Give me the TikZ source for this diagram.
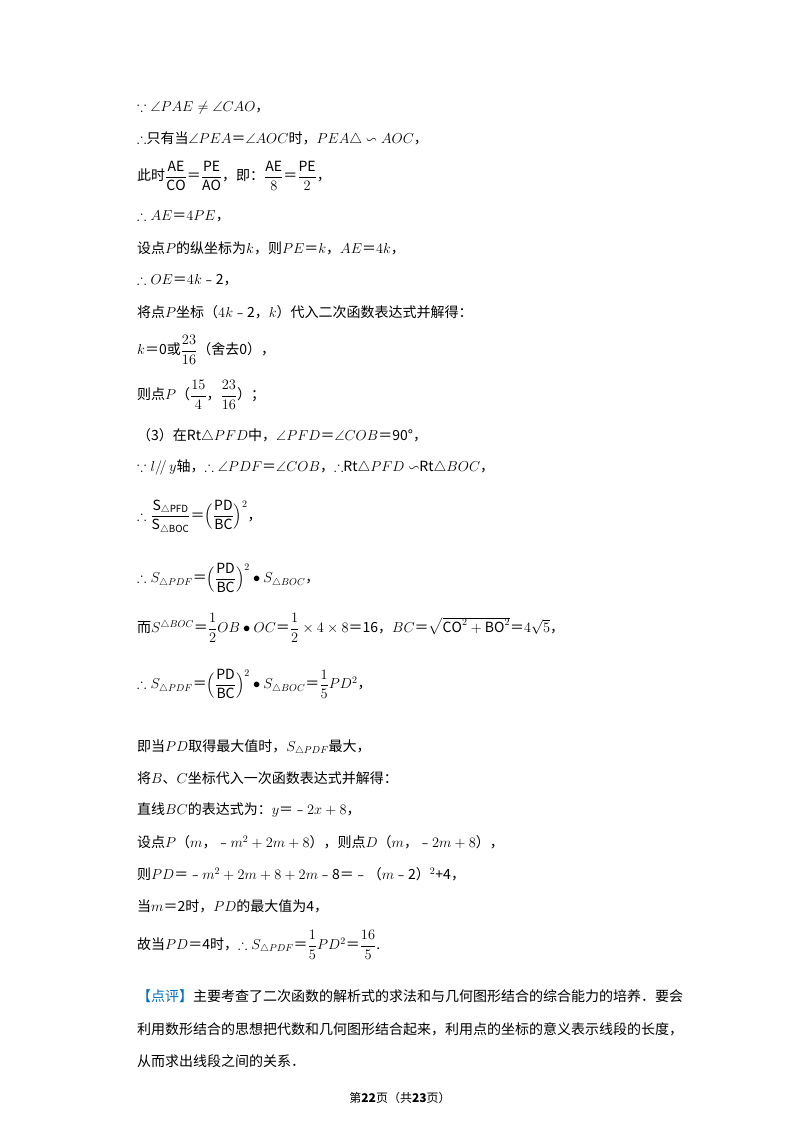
\documentclass[tikz,border=0pt]{standalone}
\usepackage{amsmath,amssymb}
\usepackage{fontspec}
\setmainfont{Noto Sans CJK SC}
\newcommand\fs{\fontsize{14}{17}\selectfont}
\definecolor{dpblue}{RGB}{0,112,192}
\begin{document}
\begin{tikzpicture}[x=1pt,y=-1pt,t/.style={anchor=west,inner sep=0pt,font=\fs}]
\useasboundingbox[fill=white] (0,0) rectangle (800,1132);
\node[t] (l1) at (137,108) {$\because\angle PAE\neq\angle CAO$，};
\node[t] (l2) at (137,139) {$\therefore$只有当$\angle PEA$＝$\angle AOC$时，$PEA\triangle\backsim AOC$，};
\node[t] (l3) at (137,176) {此时$\dfrac{\mathrm{AE}}{\mathrm{CO}}$＝$\dfrac{\mathrm{PE}}{\mathrm{AO}}$，即：$\dfrac{\mathrm{AE}}{8}$＝$\dfrac{\mathrm{PE}}{2}$，};
\node[t] (l4) at (137,216) {$\therefore AE$＝$4PE$，};
\node[t] (l5) at (137,248) {设点$P$的纵坐标为$k$，则$PE$＝$k$，$AE$＝$4k$，};
\node[t] (l6) at (137,280) {$\therefore OE$＝$4k$﹣2，};
\node[t] (l7) at (137,312) {将点$P$坐标（$4k$﹣2，$k$）代入二次函数表达式并解得：};
\node[t] (l8) at (137,350) {$k$＝0或$\dfrac{23}{16}$（舍去0），};
\node[t] (l9) at (137,395) {则点$P$（$\dfrac{15}{4}$，$\dfrac{23}{16}$）；};
\node[t] (l10) at (137,436) {（3）在Rt$\triangle PFD$中，$\angle PFD$＝$\angle COB$＝90°，};
\node[t] (l11) at (137,467) {$\because l/\!/\,y$轴，$\therefore\angle PDF$＝$\angle COB$，$\therefore$Rt$\triangle PFD\backsim$Rt$\triangle BOC$，};
\node[t] (l12) at (137,517) {$\therefore\dfrac{\mathrm{S}_{\triangle\mathrm{PFD}}}{\mathrm{S}_{\triangle\mathrm{BOC}}}$＝$\Big(\dfrac{\mathrm{PD}}{\mathrm{BC}}\Big)^2$，};
\node[t] (l13) at (137,578) {$\therefore S_{\triangle PDF}$＝$\Big(\dfrac{\mathrm{PD}}{\mathrm{BC}}\Big)^2\bullet S_{\triangle BOC}$，};
\node[t] (l14) at (137,628) {而$S^{\triangle BOC}$＝$\dfrac12 OB\bullet OC$＝$\dfrac12\times4\times8$＝16，$BC$＝$\sqrt{\mathrm{CO}^2+\mathrm{BO}^2}$＝$4\sqrt5$，};
\node[t] (l15) at (137,684) {$\therefore S_{\triangle PDF}$＝$\Big(\dfrac{\mathrm{PD}}{\mathrm{BC}}\Big)^2\bullet S_{\triangle BOC}$＝$\dfrac15 PD^2$，};
\node[t] (l16) at (137,748) {即当$PD$取得最大值时，$S_{\triangle PDF}$最大，};
\node[t] (l17) at (137,778) {将$B$、$C$坐标代入一次函数表达式并解得：};
\node[t] (l18) at (137,810) {直线$BC$的表达式为：$y$＝﹣$2x+8$，};
\node[t] (l19) at (137,842) {设点$P$（$m$，﹣$m^2+2m+8$），则点$D$（$m$，﹣$2m+8$），};
\node[t] (l20) at (137,874) {则$PD$＝﹣$m^2+2m+8+2m$﹣8＝﹣（$m$﹣2）$^2$+4，};
\node[t] (l21) at (137,906) {当$m$＝2时，$PD$的最大值为4，};
\node[t] (l22) at (137,945) {故当$PD$＝4时，$\therefore S_{\triangle PDF}$＝$\dfrac15 PD^2$＝$\dfrac{16}{5}$.};
\node[t] (l23) at (137,996) {{\color{dpblue}【点评】}主要考查了二次函数的解析式的求法和与几何图形结合的综合能力的培养．要会};
\node[t] (l24) at (137,1029) {利用数形结合的思想把代数和几何图形结合起来，利用点的坐标的意义表示线段的长度，};
\node[t] (l25) at (137,1061) {从而求出线段之间的关系．};
\node[inner sep=0pt,font=\fontsize{12}{14}\selectfont] (foot) at (400,1098) {第\textbf{22}页（共\textbf{23}页）};
\end{tikzpicture}
\end{document}
